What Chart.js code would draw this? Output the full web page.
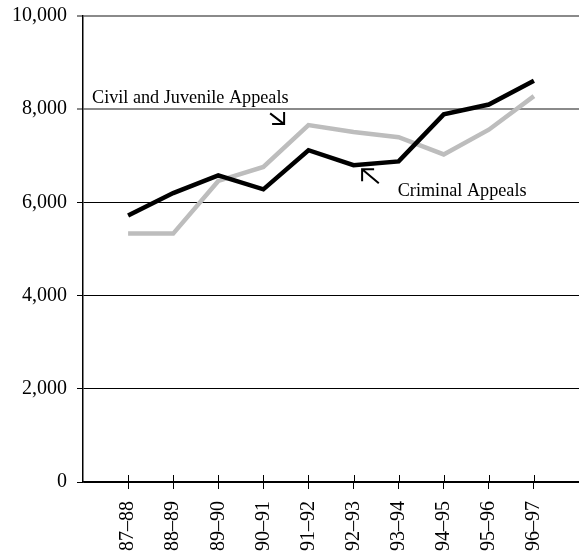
<!DOCTYPE html>
<html>
<head>
<meta charset="utf-8">
<script src="https://cdn.jsdelivr.net/npm/chart.js@4"></script>
<style>
  html, body { margin: 0; padding: 0; background: #fff; }
  #wrap { width: 579px; height: 557px; position: relative; }
</style>
</head>
<body>
<div id="wrap"><canvas id="lineChart"></canvas></div>
<script>
// fiscal years on the category axis
var years = ['87–88', '88–89', '89–90', '90–91', '91–92', '92–93', '93–94', '94–95', '95–96', '96–97'];

// appeals filed per year
var criminalAppeals = [5720, 6200, 6580, 6280, 7120, 6800, 6880, 7890, 8100, 8610];
var civilJuvenileAppeals = [5330, 5330, 6460, 6760, 7660, 7510, 7400, 7030, 7560, 8280];

var yTicks = [0, 2000, 4000, 6000, 8000, 10000];

// labels placed in data units (x = category position, y = value)
var labelNotes = [
  { text: 'Civil and Juvenile Appeals', x: 0.2, y: 8130 },
  { text: 'Criminal Appeals', x: 6.98, y: 6130 }
];
// arrows: tail -> tip in data units
var arrowNotes = [
  { from: [4.15, 7910], to: [4.46, 7680] },
  { from: [6.56, 6410], to: [6.19, 6710] }
];

var serif = '"Liberation Serif", "Times New Roman", serif';

function toPoints(values) {
  return values.map(function (v, i) { return { x: i + 1, y: v }; });
}

// annotations + inner half of the x tick marks
var notesPlugin = {
  id: 'notes',
  afterDatasetsDraw: function (chart) {
    var ctx = chart.ctx;
    var xs = chart.scales.x, ys = chart.scales.y;
    ctx.save();

    // tick marks crossing the x axis (part above the line)
    ctx.strokeStyle = '#000';
    ctx.lineWidth = 1;
    xs.ticks.forEach(function (t) {
      var px = Math.round(xs.getPixelForValue(t.value)) + 0.5;
      ctx.beginPath();
      ctx.moveTo(px, chart.chartArea.bottom - 7);
      ctx.lineTo(px, chart.chartArea.bottom);
      ctx.stroke();
    });

    ctx.fillStyle = '#000';
    ctx.font = '18.2px ' + serif;
    ctx.textBaseline = 'alphabetic';
    ctx.textAlign = 'left';
    labelNotes.forEach(function (n) {
      ctx.fillText(n.text, xs.getPixelForValue(n.x), ys.getPixelForValue(n.y));
    });

    ctx.lineWidth = 2;
    ctx.lineCap = 'butt';
    arrowNotes.forEach(function (a) {
      var x0 = xs.getPixelForValue(a.from[0]), y0 = ys.getPixelForValue(a.from[1]);
      var x1 = xs.getPixelForValue(a.to[0]), y1 = ys.getPixelForValue(a.to[1]);
      var sx = x1 > x0 ? -1 : 1, sy = y1 > y0 ? -1 : 1;
      var head = 12;
      ctx.beginPath();
      ctx.moveTo(x0, y0);
      ctx.lineTo(x1, y1);
      ctx.moveTo(x1 + sx * head, y1);
      ctx.lineTo(x1, y1);
      ctx.lineTo(x1, y1 + sy * head);
      ctx.stroke();
    });
    ctx.restore();
  }
};

var ctx = document.getElementById('lineChart').getContext('2d');
var myChart = new Chart(ctx, {
  type: 'line',
  data: {
    datasets: [
      {
        label: 'Criminal Appeals',
        data: toPoints(criminalAppeals),
        borderColor: '#000',
        borderWidth: 4.5,
        pointRadius: 0,
        tension: 0,
        fill: false
      },
      {
        label: 'Civil and Juvenile Appeals',
        data: toPoints(civilJuvenileAppeals),
        borderColor: '#bdbdbd',
        borderWidth: 4.5,
        pointRadius: 0,
        tension: 0,
        fill: false
      }
    ]
  },
  options: {
    responsive: true,
    maintainAspectRatio: false,
    animation: false,
    layout: { padding: { top: 16, right: 0, left: 0, bottom: 0 } },
    plugins: {
      legend: { display: false },
      tooltip: { enabled: false }
    },
    scales: {
      x: {
        type: 'linear',
        min: 0,
        max: 11,
        afterBuildTicks: function (scale) {
          scale.ticks = years.map(function (y, i) { return { value: i + 1 }; });
        },
        afterFit: function (scale) {
          scale.height = 75;
          scale.paddingLeft = 0;
          scale.paddingRight = 0;
        },
        grid: {
          drawOnChartArea: false,
          drawTicks: true,
          tickLength: 7,
          color: '#000',
          lineWidth: 1
        },
        border: { display: true, color: '#000', width: 1.5 },
        ticks: {
          autoSkip: false,
          minRotation: 90,
          maxRotation: 90,
          padding: 12,
          color: '#000',
          font: { family: serif, size: 20 },
          callback: function (v) { return years[v - 1]; }
        }
      },
      y: {
        min: 0,
        max: 10000,
        afterBuildTicks: function (scale) {
          scale.ticks = yTicks.map(function (v) { return { value: v }; });
        },
        afterFit: function (scale) {
          scale.width = 83;
          scale.paddingTop = 0;
          scale.paddingBottom = 0;
        },
        grid: {
          drawTicks: true,
          tickLength: 6,
          color: function (c) { return c.tick && c.tick.value >= 8000 ? '#8a8a8a' : '#000'; },
          lineWidth: function (c) { return c.tick && c.tick.value >= 8000 ? 2 : 1; }
        },
        border: { display: true, color: '#000', width: 1.5 },
        ticks: {
          padding: 10,
          color: '#000',
          font: { family: serif, size: 20 },
          callback: function (v) { return v.toLocaleString('en-US'); }
        }
      }
    }
  },
  plugins: [notesPlugin]
});
</script>
</body>
</html>
